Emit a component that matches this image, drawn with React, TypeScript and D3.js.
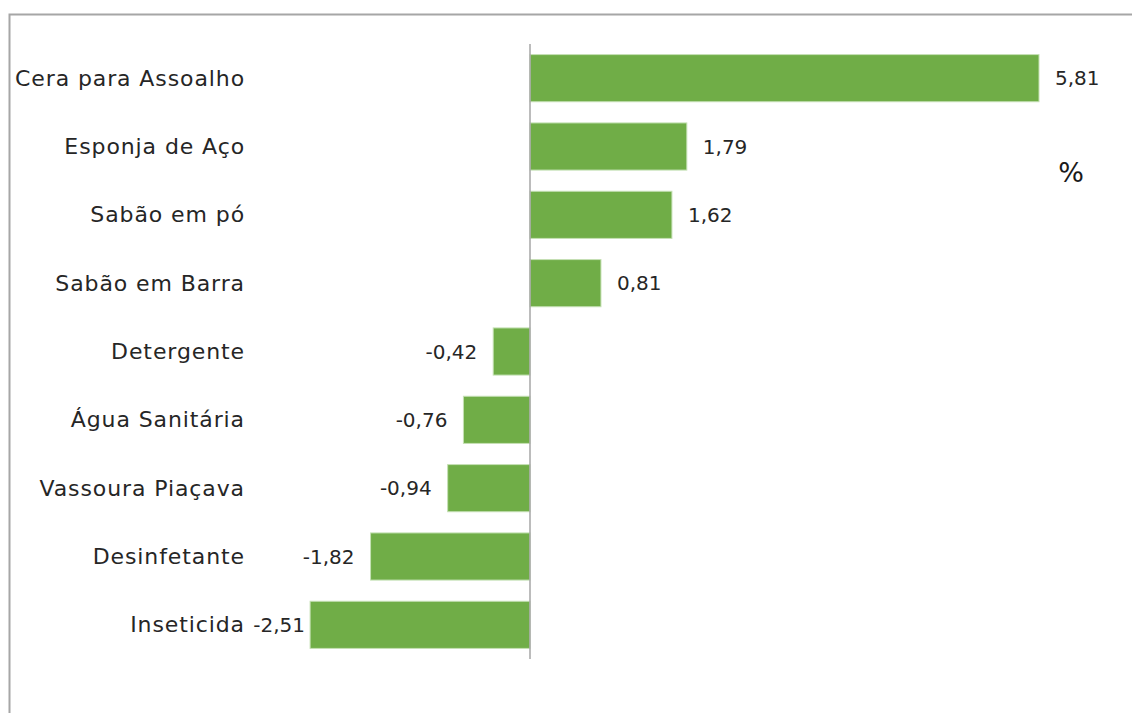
import React from "react";
import * as d3 from "d3";

const categories = [
  "Cera para Assoalho",
  "Esponja de Aço",
  "Sabão em pó",
  "Sabão em Barra",
  "Detergente",
  "Água Sanitária",
  "Vassoura Piaçava",
  "Desinfetante",
  "Inseticida",
];
const values = [5.81, 1.79, 1.62, 0.81, -0.42, -0.76, -0.94, -1.82, -2.51];
const unitLabel = "%";

const W = 1132;
const H = 713;
const FONT = "'Century Gothic', 'URW Gothic', 'DejaVu Sans', sans-serif";

export default function App() {
  const x = d3.scaleLinear().domain([0, 5.81]).range([530, 1039]);
  const y = d3
    .scaleBand<string>()
    .domain(categories)
    .range([44, 659])
    .paddingInner(0.31)
    .paddingOuter(0.155);
  const fmt = (v: number) => v.toFixed(2).replace(".", ",");

  return (
    <svg
      width={W}
      height={H}
      style={{ position: "absolute", left: 0, top: 0, background: "#fff" }}
    >
      <rect x={0} y={0} width={W} height={H} fill="#fff" />
      <path d="M9.5,713 V14.5 H1132" fill="none" stroke="#a6a6a6" strokeWidth={2} />
      {categories.map((c, i) => {
        const v = values[i];
        const y0 = y(c)!;
        const bh = y.bandwidth();
        const x0 = Math.min(x(0), x(v));
        const x1 = Math.max(x(0), x(v));
        const cy = y0 + bh / 2;
        return (
          <g key={c}>
            <rect
              x={x0}
              y={y0}
              width={x1 - x0}
              height={bh}
              fill="#70ad47"
              stroke="#c5e0b4"
              strokeWidth={1}
            />
            <text
              x={245}
              y={cy}
              textAnchor="end"
              dominantBaseline="central"
              fontFamily={FONT}
              fontSize={22}
              letterSpacing={0.9}
              fill="#262626"
            >
              {c}
            </text>
            <text
              x={v >= 0 ? x(v) + 16 : Math.max(x(v) - 16, 305)}
              y={cy}
              textAnchor={v >= 0 ? "start" : "end"}
              dominantBaseline="central"
              fontFamily={FONT}
              fontSize={20}
              fill="#262626"
            >
              {fmt(v)}
            </text>
          </g>
        );
      })}
      <line x1={x(0)} x2={x(0)} y1={44} y2={659} stroke="#a6a6a6" strokeWidth={1.5} />
      <text
        x={1071}
        y={172}
        textAnchor="middle"
        dominantBaseline="central"
        fontFamily={FONT}
        fontSize={27}
        fill="#1a1a1a"
      >
        {unitLabel}
      </text>
    </svg>
  );
}
